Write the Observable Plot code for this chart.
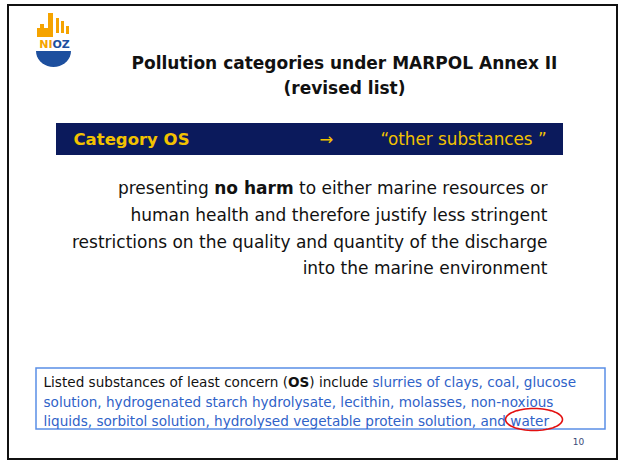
<!DOCTYPE html>
<html><head><meta charset="utf-8">
<script src="https://cdn.jsdelivr.net/npm/d3@7"></script>
<script src="https://cdn.jsdelivr.net/npm/@observablehq/plot@0.6"></script>
<style>html,body{margin:0;padding:0;background:#fff} svg{display:block}</style>
</head><body><div id="chart"></div>
<script>
// ---- content ----
const titleLines = ["Pollution categories under MARPOL Annex II", "(revised list)"];
const bannerLabel = "Category OS";
const bannerArrow = "\u2192";
const bannerValue = "\u201Cother substances \u201D";
const bodyLines = [
  "presenting no harm to either marine resources or",
  "human health and therefore justify less stringent",
  "restrictions on the quality and quantity of the discharge",
  "into the marine environment"
];
const bodyBold = "no harm";
const boxLines = [
  "Listed substances of least concern (OS) include slurries of clays, coal, glucose",
  "solution, hydrogenated starch hydrolysate, lecithin, molasses, non-noxious",
  "liquids, sorbitol solution, hydrolysed vegetable protein solution, and water"
];
const boxBlackPrefix = "Listed substances of least concern (OS) include ";
const boxBold = "OS";
const highlighted = "water";
const pageNumber = "10";
const logoWord = ["NI", "OZ"];

// ---- layout ----
const W = 619, H = 461;
const NAVY = "#0b1a5c", GOLD = "#f2c200", BLUE = "#2f62c8", ORANGE = "#f5a300", LOGOBLUE = "#1d4f9e";
const L = {
  frame: {x1: 8, x2: 617, y1: 5, y2: 459},
  titleX: 344, titleY: [63, 88],
  banner: {x1: 56, x2: 563, y1: 123, y2: 155},
  bannerTextY: 139, labelX: 73, arrowX: 326, valueX: 380,
  bodyRight: 547, bodyY: [188, 215, 242, 268],
  box: {x1: 36, x2: 605, y1: 368, y2: 429},
  boxX: 43, boxY: [382, 402, 421],
  page: {x: 578, y: 442},
  ell: {cx: 533.5, cy: 419, rx: 28.5, ry: 11}
};

const ellipsePts = d3.range(0, 361, 6).map(a => {
  const t = a * Math.PI / 180;
  return {x: L.ell.cx + L.ell.rx * Math.cos(t), y: L.ell.cy + L.ell.ry * Math.sin(t)};
});
const bowlPts = d3.range(0, 181, 10).map(a => {
  const t = a * Math.PI / 180;
  return {x: 53.5 + 17.5 * Math.cos(t), y: 51 + 16 * Math.sin(t)};
});
const logoRects = [
  {x1: 48, x2: 53, y1: 13, y2: 37},
  {x1: 37, x2: 48, y1: 28, y2: 37},
  {x1: 40, x2: 44, y1: 24, y2: 29},
  {x1: 56, x2: 59, y1: 18, y2: 33},
  {x1: 61, x2: 64, y1: 21, y2: 33},
  {x1: 66, x2: 69, y1: 26, y2: 34}
];

const plot = Plot.plot({
  width: W, height: H, margin: 0,
  x: {domain: [0, W], range: [0, W], axis: null},
  y: {domain: [0, H], range: [0, H], axis: null},
  style: {fontFamily: "DejaVu Sans", background: "white"},
  marks: [
    Plot.rect([L.frame], {x1: "x1", x2: "x2", y1: "y1", y2: "y2", fill: "white", stroke: "#111", strokeWidth: 2}),
    // logo
    Plot.rect(logoRects, {x1: "x1", x2: "x2", y1: "y1", y2: "y2", fill: ORANGE}),
    Plot.area(bowlPts, {x1: "x", y1: "y", y2: 51, fill: LOGOBLUE}),
    Plot.text([logoWord.join("")], {x: 54, y: 43.5, text: d => d, fontSize: 11, fontWeight: "bold", fill: LOGOBLUE}),
    // title
    Plot.text(titleLines, {x: L.titleX, y: (d, i) => L.titleY[i], text: d => d, fontSize: 17, fontWeight: "bold", fill: "#111"}),
    // banner
    Plot.rect([L.banner], {x1: "x1", x2: "x2", y1: "y1", y2: "y2", fill: NAVY}),
    Plot.text([bannerLabel], {x: L.labelX, y: L.bannerTextY, text: d => d, textAnchor: "start", fontSize: 16.5, fontWeight: "bold", fill: GOLD}),
    Plot.text([bannerArrow], {x: L.arrowX, y: L.bannerTextY, text: d => d, fontSize: 16.5, fill: GOLD}),
    Plot.text([bannerValue], {x: L.valueX, y: L.bannerTextY, text: d => d, textAnchor: "start", fontSize: 16.8, fill: GOLD}),
    // body
    Plot.text(bodyLines, {x: L.bodyRight, y: (d, i) => L.bodyY[i], text: d => d, textAnchor: "end", fontSize: 17, fill: "#111"}),
    // box
    Plot.rect([L.box], {x1: "x1", x2: "x2", y1: "y1", y2: "y2", fill: "none", stroke: "#5a8ee6", strokeWidth: 1.5}),
    Plot.text(boxLines, {x: L.boxX, y: (d, i) => L.boxY[i], text: d => d, textAnchor: "start", fontSize: 13.6, fill: BLUE}),
    Plot.line(ellipsePts, {x: "x", y: "y", stroke: "#e31010", strokeWidth: 1.6}),
    Plot.text([pageNumber], {x: L.page.x, y: L.page.y, text: d => d, fontSize: 9, fill: "#3a4a78"})
  ]
});
document.getElementById("chart").appendChild(plot);

// mixed-style runs inside text lines
function restyle(textEl, runs) {
  const sel = d3.select(textEl);
  sel.text(null);
  runs.forEach(r => {
    const ts = sel.append("tspan").text(r.t);
    if (r.weight) ts.attr("font-weight", r.weight);
    if (r.fill) ts.attr("fill", r.fill);
  });
}
d3.select(plot).selectAll("text").each(function() {
  const s = this.textContent;
  if (s === bodyLines[0]) {
    const k = s.indexOf(bodyBold);
    restyle(this, [{t: s.slice(0, k)}, {t: bodyBold, weight: "bold"}, {t: s.slice(k + bodyBold.length)}]);
  } else if (s === boxLines[0]) {
    const k = boxBlackPrefix.indexOf(boxBold);
    restyle(this, [
      {t: boxBlackPrefix.slice(0, k), fill: "#111"},
      {t: boxBold, fill: "#111", weight: "bold"},
      {t: boxBlackPrefix.slice(k + boxBold.length), fill: "#111"},
      {t: s.slice(boxBlackPrefix.length)}
    ]);
  } else if (s === logoWord.join("")) {
    restyle(this, [{t: logoWord[0], fill: ORANGE}, {t: logoWord[1], fill: LOGOBLUE}]);
  }
});
</script>
</body></html>
